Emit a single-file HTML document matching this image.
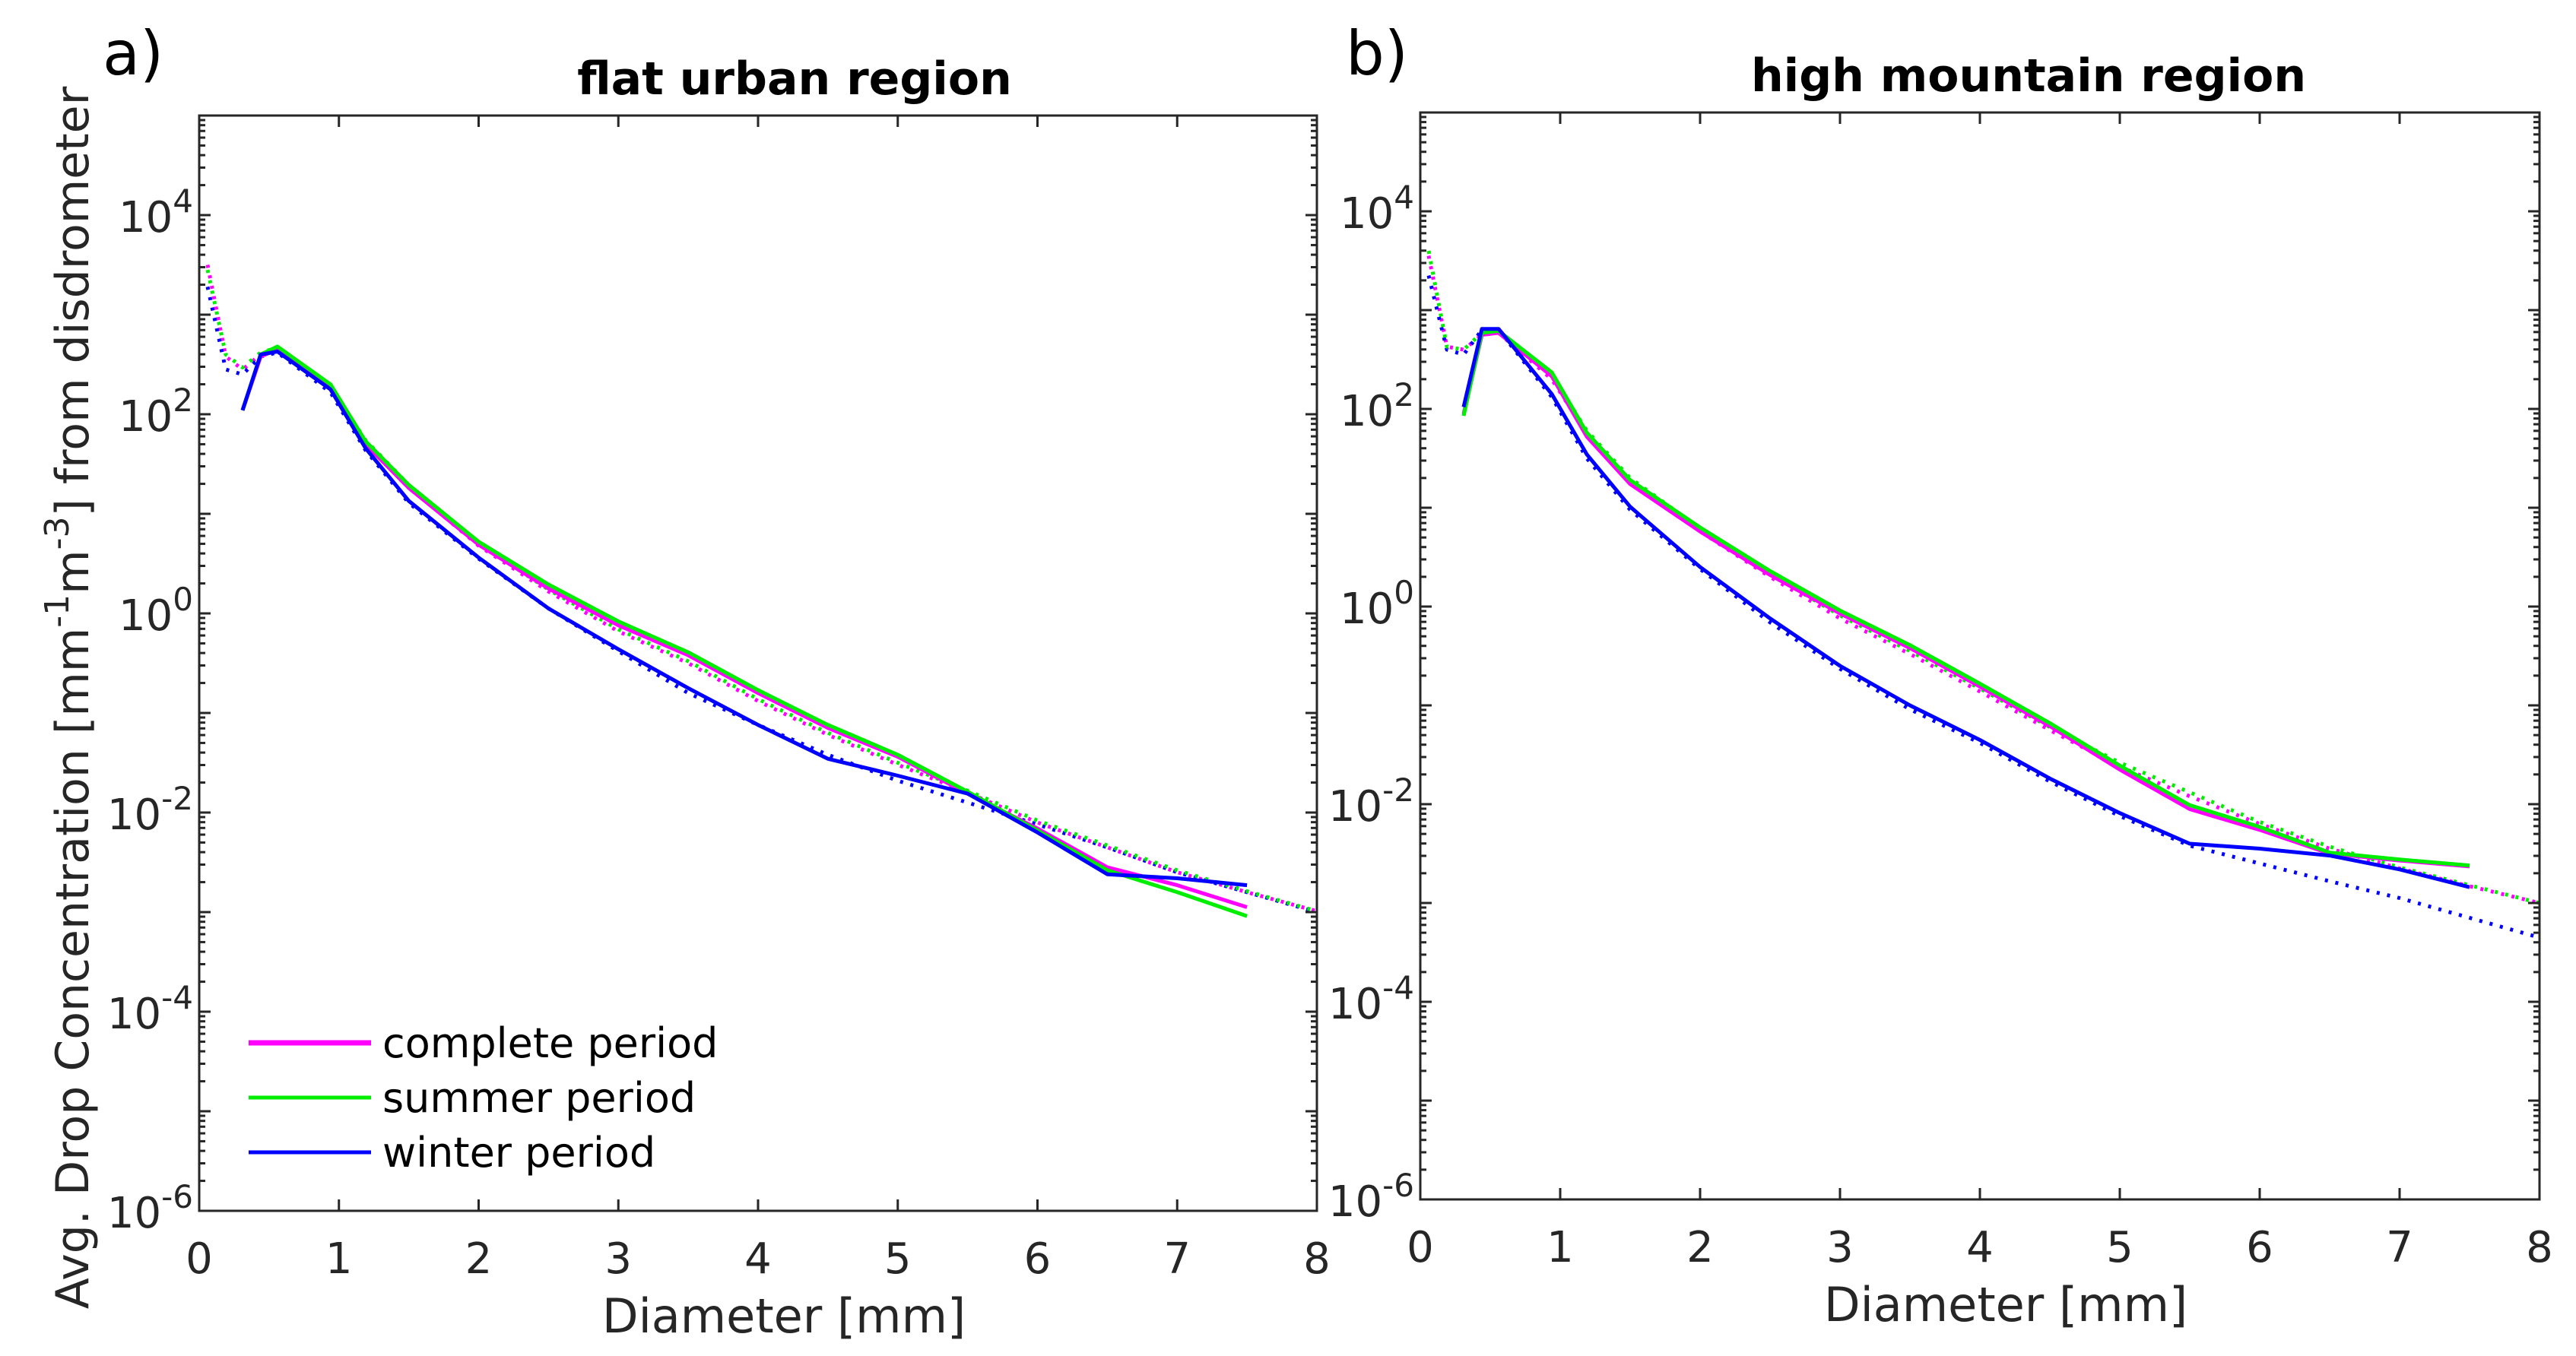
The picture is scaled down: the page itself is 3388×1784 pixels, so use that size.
<!DOCTYPE html>
<html><head><meta charset="utf-8"><style>
body{margin:0;background:#fff}
svg{display:block;font-family:"DejaVu Sans","Liberation Sans",sans-serif}
</style></head><body>
<svg id="fig" width="3388" height="1784" viewBox="0 0 3388 1784" xmlns="http://www.w3.org/2000/svg">
<rect width="3388" height="1784" fill="#fff"/>
<g id="root"></g>
</svg>
<script>
// ---- data ----
const diamA = [0.31,0.44,0.56,0.94,1.19,1.5,2,2.5,3,3.5,4,4.5,5,5.5,6,6.5,7,7.5];
const aComplete = [2.04,2.58,2.65,2.27,1.70,1.26,0.69,0.25,-0.12,-0.42,-0.80,-1.15,-1.44,-1.81,-2.16,-2.55,-2.73,-2.95];
const aSummer   = [2.04,2.60,2.68,2.30,1.73,1.29,0.72,0.29,-0.08,-0.39,-0.77,-1.12,-1.42,-1.79,-2.18,-2.58,-2.80,-3.04];
const aWinter   = [2.04,2.60,2.63,2.25,1.66,1.13,0.56,0.05,-0.36,-0.75,-1.12,-1.46,-1.63,-1.81,-2.20,-2.62,-2.66,-2.73];
const diamFit = [0.06,0.19,0.31,0.44,0.56,0.94,1.19,1.5,2,2.5,3,3.5,4,4.5,5,5.5,6,6.5,7,7.5,8];
const aCompleteFit = [3.50,2.58,2.45,2.60,2.65,2.25,1.72,1.27,0.68,0.22,-0.18,-0.50,-0.88,-1.22,-1.52,-1.80,-2.10,-2.35,-2.60,-2.80,-2.99];
const aSummerFit   = [3.45,2.60,2.47,2.62,2.67,2.28,1.74,1.29,0.70,0.24,-0.16,-0.48,-0.86,-1.20,-1.50,-1.78,-2.08,-2.33,-2.58,-2.79,-2.99];
const aWinterFit   = [3.28,2.45,2.40,2.58,2.62,2.22,1.64,1.11,0.55,0.05,-0.38,-0.80,-1.12,-1.42,-1.68,-1.90,-2.12,-2.35,-2.60,-2.80,-3.00];
const diamB = [0.31,0.44,0.56,0.94,1.19,1.5,2,2.5,3,3.5,4,4.5,5,5.5,6,6.5,7,7.5];
const bComplete = [1.95,2.75,2.77,2.33,1.72,1.24,0.76,0.32,-0.07,-0.42,-0.81,-1.21,-1.65,-2.05,-2.26,-2.50,-2.57,-2.63];
const bSummer   = [1.93,2.77,2.79,2.37,1.76,1.28,0.80,0.36,-0.04,-0.39,-0.78,-1.18,-1.61,-2.01,-2.23,-2.49,-2.56,-2.62];
const bWinter   = [2.02,2.81,2.81,2.15,1.54,1.01,0.40,-0.12,-0.60,-1.00,-1.35,-1.74,-2.09,-2.40,-2.45,-2.52,-2.66,-2.84];
const bCompleteFit = [3.55,2.63,2.60,2.75,2.77,2.30,1.75,1.28,0.76,0.30,-0.12,-0.48,-0.86,-1.25,-1.62,-1.92,-2.20,-2.45,-2.65,-2.83,-3.00];
const bSummerFit   = [3.60,2.63,2.60,2.77,2.79,2.34,1.78,1.30,0.79,0.33,-0.09,-0.45,-0.83,-1.22,-1.58,-1.88,-2.18,-2.43,-2.64,-2.82,-3.00];
const bWinterFit   = [3.35,2.60,2.55,2.80,2.80,2.12,1.50,0.98,0.38,-0.16,-0.63,-1.04,-1.38,-1.77,-2.12,-2.42,-2.60,-2.78,-2.95,-3.15,-3.35];
const xTicks = [0,1,2,3,4,5,6,7,8];
const yTicks = [-6,-4,-2,0,2,4];
const legendLabels = ["complete period","summer period","winter period"];

const NS="http://www.w3.org/2000/svg";
const root=document.getElementById('root');
function mk(tag,attrs,parent,text){const e=document.createElementNS(NS,tag);for(const k in attrs)e.setAttribute(k,attrs[k]);if(text!==undefined)e.textContent=text;(parent||root).appendChild(e);return e;}

function panel(p){
  const g=mk('g',{});
  
  
  const sx=v=>p.l+(v/8)*(p.r-p.l);
  const dec=(p.b-p.t)/11;
  const sy=lv=>p.b-(lv+6)*dec;
  function line(xs,ys,color,w,dotted,name){
    const d=xs.map((x,i)=>(i?'L':'M')+sx(x).toFixed(1)+' '+sy(ys[i]).toFixed(1)).join(' ');
    const e=mk('path',{d:d,fill:'none',stroke:color,'stroke-width':w,'stroke-linejoin':'round','stroke-dasharray':dotted?'4 10':'none'},g);
    
    
  }
  line(diamFit,p.cf,'#ff00ff',5,true,'complete-fit-line');
  line(diamFit,p.wf,'#0000ff',5,true,'winter-fit-line');
  line(diamFit,p.sf,'#00ee00',5,true,'summer-fit-line');
  line(p.x,p.c,'#ff00ff',5,false,'complete-line');
  line(p.x,p.s,'#00ee00',5,false,'summer-line');
  line(p.x,p.w,'#0000ff',5,false,'winter-line');
  const box=mk('rect',{x:p.l,y:p.t,width:p.r-p.l,height:p.b-p.t,fill:'none',stroke:'#262626','stroke-width':3},g);
  
  
  xTicks.forEach(v=>{
    const X=sx(v);
    mk('line',{x1:X,y1:p.b,x2:X,y2:p.b-15,stroke:'#262626','stroke-width':3},g);
    mk('line',{x1:X,y1:p.t,x2:X,y2:p.t+15,stroke:'#262626','stroke-width':3},g);
    const t=mk('text',{x:X,y:p.b+82,'font-size':56,'text-anchor':'middle',fill:'#262626'},g,String(v));
    
    
  });
  for(let d=-6;d<=4;d++){
    for(let m=1;m<=9;m++){
      const lv=d+Math.log10(m);
      const Y=sy(lv), len=m===1?15:8;
      mk('line',{x1:p.l,y1:Y,x2:p.l+len,y2:Y,stroke:'#262626','stroke-width':3},g);
      mk('line',{x1:p.r,y1:Y,x2:p.r-len,y2:Y,stroke:'#262626','stroke-width':3},g);
    }
  }
  yTicks.forEach(v=>{
    const Y=sy(v);
    const t=mk('text',{x:p.l-8,y:Y+22,'font-size':56,'text-anchor':'end',fill:'#262626'},g);
    
    
    mk('tspan',{},t,'10');
    mk('tspan',{dy:-26,'font-size':42},t,String(v));
  });
  const ti=mk('text',{x:(p.l+p.r)/2+p.tdx,y:p.t-28,'font-size':60,'font-weight':'bold','text-anchor':'middle',fill:'#000'},g,p.title);
  
  
  const xl=mk('text',{x:(p.l+p.r)/2+34,y:p.b+160,'font-size':62,'text-anchor':'middle',fill:'#262626'},g,'Diameter [mm]');
  
  
  const pl=mk('text',{x:p.lx,y:98,'font-size':80,fill:'#000'},g,p.letter);
  
  
  return {g,sx,sy};
}

panel({name:'panel-a',l:262,r:1732,t:152,b:1593,x:diamA,c:aComplete,s:aSummer,w:aWinter,cf:aCompleteFit,sf:aSummerFit,wf:aWinterFit,title:'flat urban region',letter:'a)',lx:135,tdx:48});
panel({name:'panel-b',l:1868,r:3340,t:148,b:1578,x:diamB,c:bComplete,s:bSummer,w:bWinter,cf:bCompleteFit,sf:bSummerFit,wf:bWinterFit,title:'high mountain region',letter:'b)',lx:1770,tdx:64});

const yl=mk('text',{transform:'translate(116,918) rotate(-90)','font-size':60,'text-anchor':'middle',fill:'#262626'});


mk('tspan',{},yl,'Avg. Drop Concentration [mm');
mk('tspan',{dy:-26,'font-size':44},yl,'-1');
mk('tspan',{dy:26},yl,'m');
mk('tspan',{dy:-26,'font-size':44},yl,'-3');
mk('tspan',{dy:26},yl,'] from disdrometer');

const leg=mk('g',{});


const legColors=['#ff00ff','#00ee00','#0000ff'], legW=[7,5,5], legY=[1372,1444,1516];
legendLabels.forEach((lab,i)=>{
  const e=mk('g',{},leg);
  
  
  mk('line',{x1:327,y1:legY[i],x2:488,y2:legY[i],stroke:legColors[i],'stroke-width':legW[i]},e);
  mk('text',{x:503,y:legY[i]+19,'font-size':54,fill:'#000'},e,lab);
});
</script>
</body></html>
